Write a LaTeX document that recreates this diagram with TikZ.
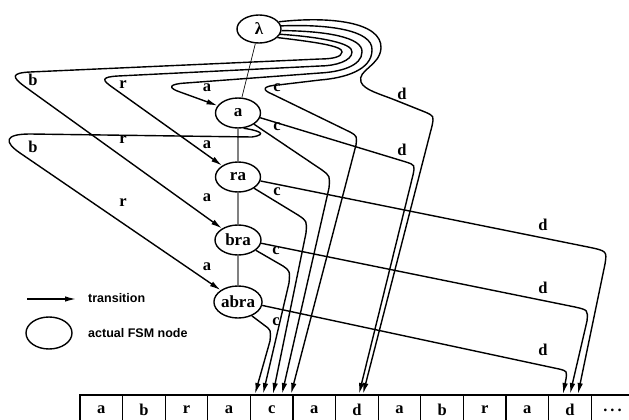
\documentclass[tikz,border=0pt]{standalone}
\usepackage{fontspec}
\setmainfont{Liberation Serif}
\newfontfamily\legendfont{Liberation Sans}
\usetikzlibrary{shapes.geometric,arrows.meta}
\begin{document}
\begin{tikzpicture}[x=1pt,y=-1pt,
  fsm/.style={ellipse,draw,line width=1.4pt,inner sep=0pt,font=\fontsize{17}{17}\selectfont\bfseries},
  tr/.style={line width=1.4pt,-{Latex[length=11pt,width=5.5pt]}},
  lbl/.style={font=\fontsize{16.5}{16.5}\selectfont\bfseries,inner sep=0pt},
  link/.style={line width=1.4pt,gray},
  tapecell/.style={rectangle,draw,line width=1.3pt,minimum width=42.6pt,minimum height=30pt,inner sep=0pt,font=\fontsize{16.5}{16.5}\selectfont\bfseries},
  legendtext/.style={font=\legendfont\fontsize{12.5}{12.5}\selectfont\bfseries,inner sep=0pt,anchor=west}]
\useasboundingbox (0,0) rectangle (629,420);

% FSM nodes
\node[fsm,minimum width=44pt,minimum height=28pt] (lam) at (259,29) {λ};
\node[fsm,minimum width=45pt,minimum height=30pt] (a) at (238,113) {a};
\node[fsm,minimum width=45pt,minimum height=30pt] (ra) at (238,177) {ra};
\node[fsm,minimum width=46pt,minimum height=30pt] (bra) at (238,240) {bra};
\node[fsm,minimum width=47pt,minimum height=32pt] (abra) at (238,302) {abra};

% links
\draw[line width=0.7pt] (lam) -- (a);
\draw[link] (a) -- (ra);
\draw[link] (ra) -- (bra);
\draw[link] (bra) -- (abra);

% tape
\foreach \l [count=\i] in {a,b,r,a,c,a,d,a,b,r,a,d,{.\hspace{3pt}.\hspace{3pt}.}}
  \node[tapecell] (t\i) at ({80+42.6*(\i-0.5)},410) {\l};

% arrow end points on the tape
\coordinate (cA) at (255,394);
\coordinate (cB) at (263,394);
\coordinate (cC) at (273,394);
\coordinate (cD) at (282,394);
\coordinate (cE) at (291,394);
\coordinate (dB) at (359,394);
\coordinate (dA) at (363,394);
\coordinate (dC) at (563,394);
\coordinate (dD) at (570,394);
\coordinate (dE) at (578,394);

% transitions from lambda
\draw[tr] (lam.20) .. controls (330,16) and (382,22) .. (381,48)
  .. controls (380,66) and (357,70) .. (361,82)
  .. controls (364,90) and (380,94) .. (395,100) -- (425,112)
  .. controls (434,116) .. (432,126) -- (dA);
\draw[tr] (lam.8) .. controls (328,24) and (373,30) .. (372,50)
  .. controls (372,70) and (345,78) .. (320,80) -- (278,85)
  .. controls (262,86) and (262,90) .. (272,94) -- (350,132)
  .. controls (357,136) .. (356,145) -- (cE);
\draw[tr] (lam.-4) .. controls (325,31) and (363,37) .. (362,52)
  .. controls (362,66) and (340,72) .. (320,73) -- (186,83)
  .. controls (168,84) and (168,88) .. (180,92) -- (a);
\draw[tr] (lam.-14) .. controls (320,37) and (353,43) .. (352,52)
  .. controls (352,61) and (335,66) .. (320,66) -- (118,76)
  .. controls (101,77) and (102,80) .. (112,87) -- (ra);
\draw[tr] (lam.-25) .. controls (315,42) and (343,46) .. (342,52)
  .. controls (342,57) and (332,59) .. (320,59) -- (30,72)
  .. controls (11,73) and (12,77) .. (24,86) -- (bra);

% transitions from a
\draw[tr] (a.-70) .. controls (256,130) and (270,134) .. (252,137) -- (30,134)
  .. controls (4,134) and (4,142) .. (20,153) -- (abra);
\draw[tr] (a.-35) -- (322,170) .. controls (330,176) .. (329,188) -- (cD);
\draw[tr] (a.-12) -- (406,162) .. controls (415,165) .. (413,175) -- (dB);

% transitions from ra, bra, abra
\draw[tr] (ra.-35) -- (298,215) .. controls (307,221) .. (306,233) -- (cC);
\draw[tr] (ra.-10) -- (588,247) .. controls (607,251) .. (605,264) -- (dE);
\draw[tr] (bra.-30) -- (283,266) .. controls (290,271) .. (289,283) -- (cB);
\draw[tr] (bra.-8) -- (575,307) .. controls (588,310) .. (587,321) -- (dD);
\draw[tr] (abra.-45) -- (264,325) .. controls (271,330) .. (270,341) -- (cA);
\draw[tr] (abra.-8) -- (559,369) .. controls (567,371) .. (566,379) -- (dC);

% labels
\node[lbl] (l1) at (33,80) {b};
\node[lbl] (l2) at (123,85) {r};
\node[lbl] (l3) at (207,88) {a};
\node[lbl] (l4) at (123,140) {r};
\node[lbl] (l5) at (207,145) {a};
\node[lbl] (l6) at (33,147) {b};
\node[lbl] (l7) at (207,198) {a};
\node[lbl] (l8) at (123,203) {r};
\node[lbl] (l9) at (207,267) {a};
\node[lbl] (lc1) at (277,88) {c};
\node[lbl] (lc2) at (277,127) {c};
\node[lbl] (lc3) at (277,192) {c};
\node[lbl] (lc4) at (276,251) {c};
\node[lbl] (lc5) at (276,322) {c};
\node[lbl] (ld1) at (402,94) {d};
\node[lbl] (ld2) at (402,150) {d};
\node[lbl] (ld3) at (543,225) {d};
\node[lbl] (ld4) at (543,288) {d};
\node[lbl] (ld5) at (543,350) {d};

% legend
\coordinate (lg1) at (27,299);
\coordinate (lg2) at (76,299);
\draw[tr] (lg1) -- (lg2);
\node[legendtext] (lgt) at (88,298) {transition};
\node[fsm,minimum width=46pt,minimum height=32pt] (lge) at (49,333) {};
\node[legendtext] (lgn) at (88,333) {actual FSM node};
\end{tikzpicture}
\end{document}
